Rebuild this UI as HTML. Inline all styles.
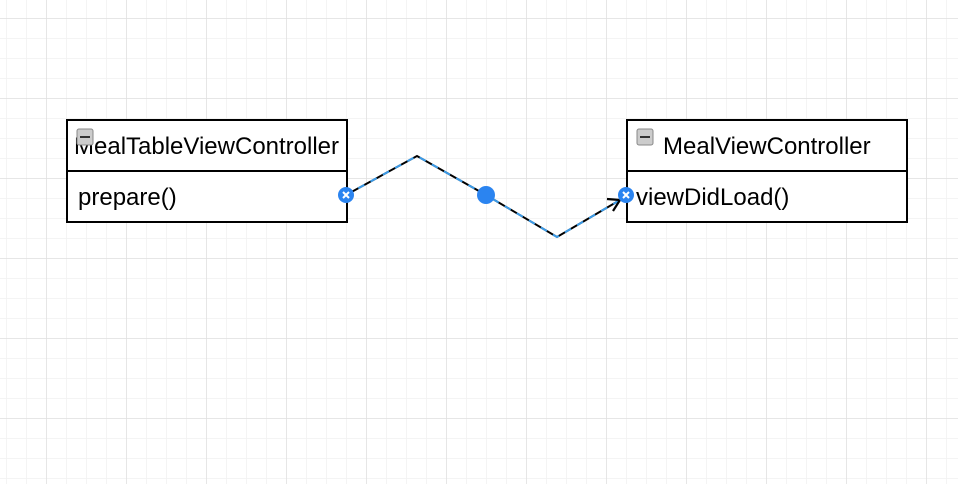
<!DOCTYPE html>
<html><head><style>
html,body{margin:0;padding:0;background:#fff;}
body{width:958px;height:484px;overflow:hidden;position:relative;font-family:"Liberation Sans",sans-serif;}
</style></head><body>
<svg width="958" height="484" style="position:absolute;left:0;top:0">
<defs>
<pattern id="minor" x="6" y="18" width="20" height="20" patternUnits="userSpaceOnUse">
<path d="M0 0H20M0 0V20" stroke="#f1f1f1" stroke-width="1.5" fill="none"/></pattern>
<pattern id="major" x="46" y="18" width="80" height="80" patternUnits="userSpaceOnUse">
<path d="M0 0H80M0 0V80" stroke="#e0e0e0" stroke-width="1.5" fill="none"/></pattern>
</defs>
<rect width="958" height="484" fill="url(#minor)"/>
<rect width="958" height="484" fill="url(#major)"/>

<g fill="#fff" stroke="#000" stroke-width="2">
<rect x="67" y="120" width="280" height="102"/>
<line x1="67" y1="171" x2="347" y2="171"/>
<rect x="627" y="120" width="280" height="102"/>
<line x1="627" y1="171" x2="907" y2="171"/>
</g>
<g font-size="24" fill="#000">
<text x="74" y="154">MealTableViewController</text>
<text x="78" y="205">prepare()</text>
<text x="663" y="154">MealViewController</text>
<text x="636" y="205">viewDidLoad()</text>
</g>
<g>
<rect x="77" y="129" width="16" height="16" rx="2" fill="#ccc" stroke="#888"/>
<rect x="80" y="136" width="10" height="2" fill="#333"/>
<rect x="637" y="129" width="16" height="16" rx="2" fill="#ccc" stroke="#888"/>
<rect x="640" y="136" width="10" height="2" fill="#333"/>
</g>
<polyline points="346,195 417,156 486,195 557,237 620,200" fill="none" stroke="#000" stroke-width="2"/>
<polyline points="346,195 417,156 486,195 557,237 620,200" fill="none" stroke="#3b9be8" stroke-width="2" stroke-dasharray="7 7"/>
<path d="M607 199 L620 200 L613 211" fill="none" stroke="#000" stroke-width="2.2"/>
<circle cx="486" cy="195" r="9" fill="#2b84f0"/>
<g>
<circle cx="346" cy="195" r="8" fill="#2b84f0"/>
<path d="M343 192L349 198M349 192L343 198" stroke="#fff" stroke-width="2"/>
<circle cx="626" cy="195" r="8" fill="#2b84f0"/>
<path d="M623 192L629 198M629 192L623 198" stroke="#fff" stroke-width="2"/>
</g>
</svg>
</body></html>
